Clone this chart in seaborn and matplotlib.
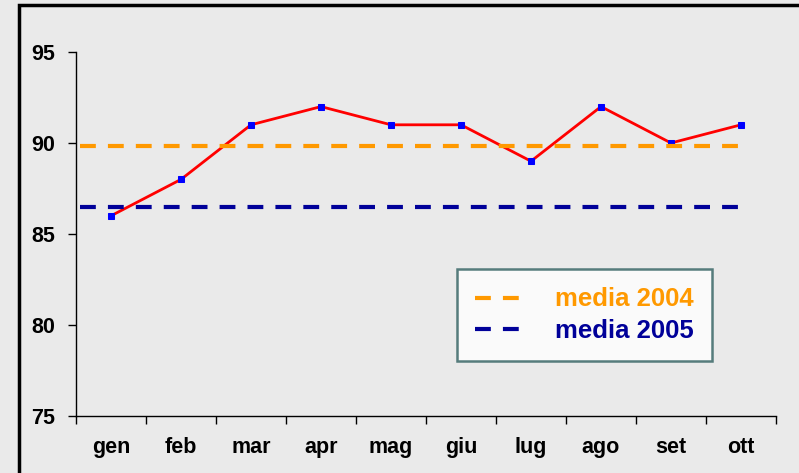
import matplotlib
matplotlib.use("Agg")
import matplotlib.pyplot as plt
import seaborn as sns
import pandas as pd
from matplotlib.patches import Rectangle
from matplotlib.lines import Line2D

months = ["gen", "feb", "mar", "apr", "mag", "giu", "lug", "ago", "set", "ott"]
values = [86, 88, 91, 92, 91, 91, 89, 92, 90, 91]
media_2004 = 89.84
media_2005 = 86.48
y_ticks = [75, 80, 85, 90, 95]

sns.set_theme(style="white")
plt.rcParams['font.family'] = ['Liberation Sans', 'DejaVu Sans']

fig = plt.figure(figsize=(7.99, 4.73), dpi=100)
fig.patch.set_facecolor("#EAEAEA")
W, H = 799, 473
ax = fig.add_axes([76 / W, 1 - 416 / H, 700 / W, 364 / H])
ax.set_facecolor("#EAEAEA")

df = pd.DataFrame({"x": range(len(months)), "y": values})
sns.lineplot(data=df, x="x", y="y", ax=ax, color="red", linewidth=2.0,
             marker="s", markersize=4, markerfacecolor="blue", markeredgecolor="blue")

ax.hlines(media_2004, -0.44, 9, colors="#FF9900", linewidth=3, linestyles=(0, (3.8, 2.9)))
ax.hlines(media_2005, -0.44, 9, colors="#000099", linewidth=3, linestyles=(0, (3.8, 2.9)))

ax.set_xlim(-0.5, 9.5)
ax.set_ylim(75, 95)
ax.set_yticks(y_ticks)
ax.set_yticklabels([str(t) for t in y_ticks], fontsize=15.5, fontweight="bold", color="black")
ax.set_xticks([i - 0.5 for i in range(len(months) + 1)])
ax.set_xticklabels([])
ax.set_xticks(range(len(months)), minor=True)
ax.set_xticklabels(months, minor=True, fontsize=15.5, fontweight="bold", color="black")
ax.tick_params(axis="x", which="major", direction="out", length=6, width=1, color="black", bottom=True)
ax.tick_params(axis="x", which="minor", length=0, pad=15)
ax.tick_params(axis="y", direction="out", length=6, width=1, color="black", left=True, pad=9)
ax.set_xlabel("")
ax.set_ylabel("")
for s in ["top", "right"]:
    ax.spines[s].set_visible(False)
for s in ["left", "bottom"]:
    ax.spines[s].set_color("black")
    ax.spines[s].set_linewidth(1)

handles = [Line2D([], [], color="#FF9900", linewidth=3, linestyle=(0, (3.8, 2.9))),
           Line2D([], [], color="#000099", linewidth=3, linestyle=(0, (3.8, 2.9)))]
leg = fig.legend(handles, ["media 2004", "media 2005"],
                 loc="upper left", bbox_to_anchor=(457 / W, 1 - 269 / H), borderaxespad=0,
                 frameon=True, fancybox=False, handlelength=2.1, handletextpad=1.0,
                 borderpad=0.72, labelspacing=0.28,
                 prop={"weight": "bold", "size": 18.5}, labelcolor=["#FF9900", "#000099"])
leg.get_frame().set_edgecolor("#2F5F5F")
leg.get_frame().set_linewidth(1.8)
leg.get_frame().set_facecolor("white")

fig.patches.append(Rectangle((19 / W, -0.1), 1.0, 1 - 5 / H + 0.1, transform=fig.transFigure,
                             fill=False, edgecolor="black", linewidth=2.5, clip_on=False))

fig.savefig("out.png", dpi=100, facecolor=fig.get_facecolor())
